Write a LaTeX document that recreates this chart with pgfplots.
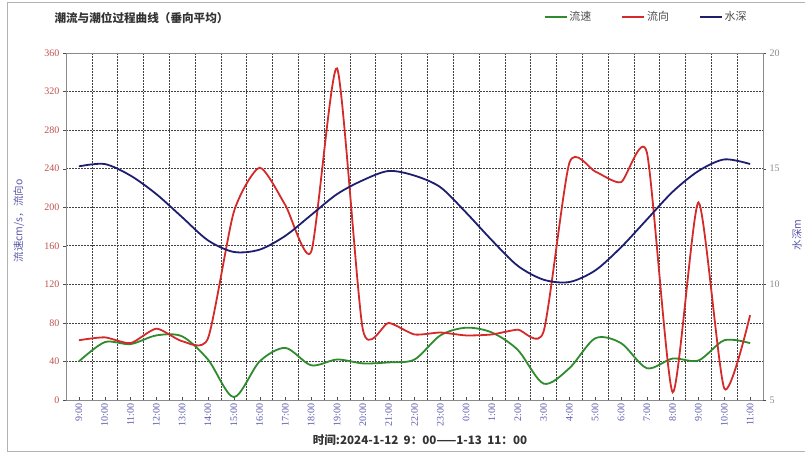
\documentclass[border=0pt]{standalone}
\usepackage{fontspec}
\setmainfont{Liberation Serif}
\newfontfamily\cjk{Noto Sans CJK SC}
\usepackage{pgfplots}
\pgfplotsset{compat=1.18}
\definecolor{cgreen}{HTML}{2E8B2E}
\definecolor{cred}{HTML}{D42A2A}
\definecolor{cnavy}{HTML}{1E1E70}
\definecolor{ctickred}{HTML}{C0504D}
\definecolor{ctickblue}{HTML}{5A5AAA}
\definecolor{cgray}{HTML}{8A8A8A}
\definecolor{ctitle}{HTML}{333333}
\begin{document}
\begin{tikzpicture}
\useasboundingbox (0pt,0pt) rectangle (805pt,454pt);
\draw[gray!60, line width=1pt] (805pt,2pt) -- (7.5pt,2pt) -- (7.5pt,451pt) -- (805pt,451pt);
\node[anchor=west, text=ctitle, font=\fontsize{11.6}{13}\selectfont] at (51pt,436pt) {\cjk\bfseries 潮流与潮位过程曲线（垂向平均）};
\node[text=ctitle, font=\fontsize{11.6}{13}\selectfont] at (420pt,14pt) {\cjk\bfseries 时间:2024-1-12\ \ 9：00——1-13\ \ 11：00};
\node[rotate=90, text=ctickblue, font=\fontsize{10.5}{12}\selectfont] at (19pt,233pt) {\cjk 流速cm/s，流向o};
\node[rotate=90, text=ctickblue, font=\fontsize{10.5}{12}\selectfont] at (797pt,219pt) {\cjk 水深m};
\begin{axis}[
  at={(66pt,54pt)}, anchor=south west, scale only axis,
  width=697pt, height=347pt,
  xmin=-0.5, xmax=26.5, ymin=0, ymax=360,
  ytick={0,40,...,360},
  xtick={0,...,26},
  xticklabels={9:00,10:00,11:00,12:00,13:00,14:00,15:00,16:00,17:00,18:00,19:00,20:00,21:00,22:00,23:00,0:00,1:00,2:00,3:00,4:00,5:00,6:00,7:00,8:00,9:00,10:00,11:00},
  minor xtick={0.5,1.5,...,25.5},
  xminorgrids, ymajorgrids,
  major grid style={black!75, dash pattern=on 2pt off 1pt, line width=0.6pt},
  minor grid style={black!75, dash pattern=on 2pt off 1pt, line width=0.6pt},
  xtick pos=bottom, ytick pos=left,
  xtick align=inside, ytick align=outside,
  major tick length=3pt,
  minor x tick style={draw=none},
  axis line style={cgray, line width=0.8pt},
  tick style={black!70},
  /pgf/number format/assume math mode=true,
  x tick label style={rotate=90, anchor=east, text=ctickblue, font=\fontsize{10}{11}\selectfont},
  y tick label style={text=ctickred, font=\fontsize{10}{11}\selectfont},
]
\addplot[cgreen, line width=1.8pt, smooth, tension=0.5] coordinates {
(0,40) (1,60) (2,58) (3,67) (4,66) (5,42) (6,3) (7,40) (8,54) (9,36) (10,42) (11,38) (12,39) (13,42) (14,67) (15,75) (16,70) (17,52) (18,17) (19,33) (20,64) (21,59) (22,33) (23,43) (24,41) (25,62) (26,59)
};
\addplot[cred, line width=1.8pt, smooth, tension=0.38] coordinates {
(0,62) (1,65) (2,59) (3,74) (4,61) (5,64) (6,195) (7,241) (8,202) (9,154) (10,344) (11,73) (12,80) (13,68) (14,70) (15,67) (16,68) (17,73) (18,71) (19,246) (20,237) (21,226) (22,257) (23,8) (24,205) (25,12) (26,88)
};
\end{axis}
\begin{axis}[
  at={(66pt,54pt)}, anchor=south west, scale only axis,
  width=697pt, height=347pt,
  xmin=-0.5, xmax=26.5, ymin=5, ymax=20,
  axis x line=none, axis y line*=right,
  ytick={5,10,15,20},
  ytick align=outside, major tick length=3pt,
  axis line style={cgray, line width=0.8pt},
  tick style={black!70},
  /pgf/number format/assume math mode=true,
  y tick label style={text=cgray, font=\fontsize{10}{11}\selectfont},
  legend style={at={(0.681,1.104)}, anchor=west, draw=none, fill=none,
    font=\fontsize{11}{12}\selectfont, text=black!70},
  legend columns=3,
  legend image code/.code={\draw[#1] (0pt,0pt) -- (22pt,0pt);},
  /tikz/every even column/.append style={column sep=28pt},
]
\addlegendimage{cgreen, line width=1.6pt}
\addlegendentry{\cjk 流速}
\addlegendimage{cred, line width=1.6pt}
\addlegendentry{\cjk 流向}
\addlegendimage{cnavy, line width=1.6pt}
\addlegendentry{\cjk 水深}
\addplot[cnavy, line width=1.8pt, smooth, forget plot] coordinates {
(0,15.1) (1,15.2) (2,14.7) (3,13.9) (4,12.9) (5,11.9) (6,11.4) (7,11.5) (8,12.1) (9,13.0) (10,13.9) (11,14.5) (12,14.9) (13,14.7) (14,14.2) (15,13.1) (16,11.9) (17,10.8) (18,10.2) (19,10.1) (20,10.6) (21,11.6) (22,12.8) (23,14.0) (24,14.9) (25,15.4) (26,15.2)
};
\end{axis}
\end{tikzpicture}
\end{document}
